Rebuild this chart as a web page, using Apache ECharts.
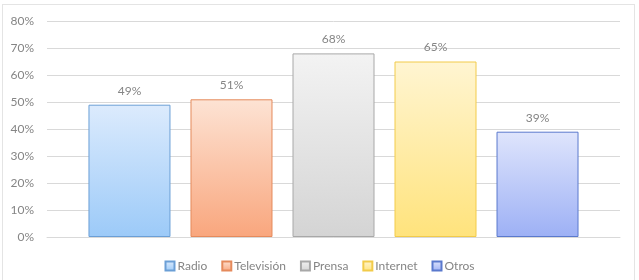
<!DOCTYPE html>
<html>
<head>
<meta charset="utf-8">
<script src="https://cdn.jsdelivr.net/npm/echarts@6/dist/echarts.min.js"></script>
<style>
  html, body { margin: 0; padding: 0; background: #fff; }
  #frame { position: absolute; left: 2px; top: 4px; width: 633px; height: 280px; border: 1px solid #e4e4e4; box-sizing: border-box; }
  #main { position: absolute; left: 0; top: 0; width: 639px; height: 280px; }
</style>
</head>
<body>
<div id="frame"></div>
<div id="main"></div>
<script>
var chartDom = document.getElementById('main');
var myChart = echarts.init(chartDom);

// datos
var seriesNames = ['Radio', 'Televisión', 'Prensa', 'Internet', 'Otros'];
var seriesValues = [49, 51, 68, 65, 39];
var yTicks = [0, 10, 20, 30, 40, 50, 60, 70, 80];

var topColors = ['#dcebfd', '#fde3d4', '#f3f3f3', '#fff5d2', '#dfe5fc'];
var bottomColors = ['#9ccaf8', '#f9a67d', '#d4d4d4', '#ffe37c', '#9db0f5'];
var borderColors = ['#6b9fd6', '#e58a5c', '#a8a8a8', '#f2cb4a', '#5a79cd'];

var series = seriesNames.map(function (name, i) {
  return {
    name: name,
    type: 'bar',
    data: [seriesValues[i]],
    barWidth: 82,
    barGap: '24.4%',
    itemStyle: {
      color: new echarts.graphic.LinearGradient(0, 0, 0, 1, [
        { offset: 0, color: topColors[i] },
        { offset: 1, color: bottomColors[i] }
      ]),
      borderColor: borderColors[i],
      borderWidth: 1
    },
    label: {
      show: true,
      position: 'top',
      distance: 8,
      formatter: '{c}%',
      color: '#858585',
      fontFamily: 'Lato',
      fontSize: 12
    }
  };
});

var option = {
  animation: false,
  textStyle: { fontFamily: 'Lato' },
  grid: { left: 47, right: 19, top: 21, bottom: 43 },
  legend: {
    bottom: 3,
    left: 'center',
    itemWidth: 9,
    itemHeight: 9,
    itemGap: 14,
    icon: 'rect',
    textStyle: { color: '#858585', fontSize: 12, fontFamily: 'Lato', padding: [0, 0, 0, -2] },
    data: seriesNames
  },
  xAxis: {
    type: 'category',
    data: [''],
    axisLine: { show: true, lineStyle: { color: '#d9d9d9' } },
    axisTick: { show: false },
    axisLabel: { show: false }
  },
  yAxis: {
    type: 'value',
    min: yTicks[0],
    max: yTicks[yTicks.length - 1],
    interval: 10,
    axisLine: { show: false },
    axisTick: { show: false },
    axisLabel: { formatter: '{value}%', color: '#858585', fontSize: 12, margin: 13 },
    splitLine: { lineStyle: { color: '#d9d9d9' } }
  },
  series: series
};

myChart.setOption(option);
</script>
</body>
</html>
